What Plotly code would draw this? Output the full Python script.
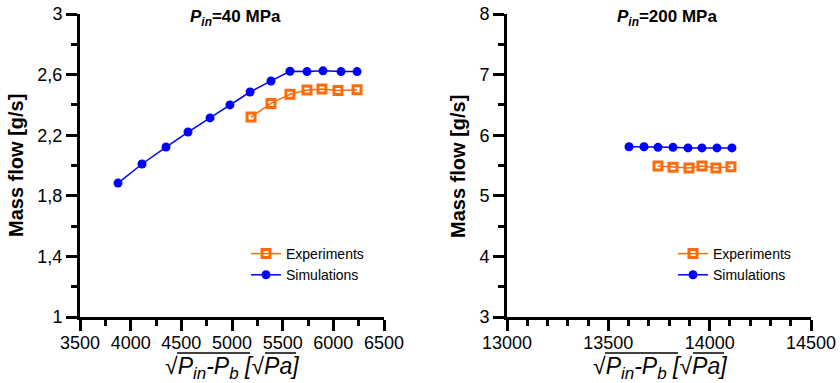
import plotly.graph_objects as go

# Left panel (P_in = 40 MPa)
sim40_x = [3875, 4112, 4349, 4566, 4783, 4980, 5178, 5385, 5572, 5740, 5898, 6076, 6234]
sim40_y = [1.884, 2.01, 2.122, 2.221, 2.314, 2.40, 2.485, 2.558, 2.622, 2.620, 2.625, 2.620, 2.620]
exp40_x = [5188, 5385, 5572, 5740, 5888, 6046, 6234]
exp40_y = [2.32, 2.41, 2.47, 2.498, 2.505, 2.495, 2.50]

# Right panel (P_in = 200 MPa)
sim200_x = [13602, 13676, 13745, 13819, 13893, 13962, 14036, 14110]
sim200_y = [5.81, 5.81, 5.80, 5.80, 5.79, 5.79, 5.79, 5.79]
exp200_x = [13745, 13819, 13898, 13962, 14031, 14105]
exp200_y = [5.49, 5.47, 5.46, 5.49, 5.46, 5.48]

BLUE = "#0000FF"
ORANGE = "#FF6A0A"
FONT = "Liberation Sans, Arial, sans-serif"

W, H = 840, 383
def px(x):
    return x / W
def py(y):
    return 1 - y / H

fig = go.Figure()

def add_pair(ex, ey, sx, sy, xa, ya, leg):
    fig.add_trace(go.Scatter(x=ex, y=ey, mode="lines+markers", name="Experiments",
                             xaxis=xa, yaxis=ya, legend=leg,
                             line=dict(color=ORANGE, width=1.5),
                             marker=dict(symbol="square-open", size=8, color=ORANGE,
                                         line=dict(color=ORANGE, width=3))))
    fig.add_trace(go.Scatter(x=sx, y=sy, mode="lines+markers", name="Simulations",
                             xaxis=xa, yaxis=ya, legend=leg,
                             line=dict(color=BLUE, width=1.5),
                             marker=dict(symbol="circle", size=9, color=BLUE)))

add_pair(exp40_x, exp40_y, sim40_x, sim40_y, "x", "y", "legend")
add_pair(exp200_x, exp200_y, sim200_x, sim200_y, "x2", "y2", "legend2")

ydom = [py(317), py(14)]
axis_common = dict(showline=True, linewidth=3, linecolor="black", ticks="outside",
                   ticklen=11, tickwidth=2.5, tickcolor="black", showgrid=False,
                   zeroline=False, automargin=False,
                   tickfont=dict(family=FONT, size=18, color="black"))

def minor(d):
    return dict(dtick=d, ticks="outside", ticklen=6, tickwidth=2.5, tickcolor="black")

fig.update_layout(
    width=W, height=H, margin=dict(l=0, r=0, t=0, b=0),
    paper_bgcolor="white", plot_bgcolor="white",
    separators=",.",
    font=dict(family=FONT, color="black"),
    xaxis=dict(domain=[px(80), px(384)], range=[3500, 6500], tick0=3500, dtick=500,
               anchor="y", tickformat="d", minor=minor(250), ticklabelstandoff=-4,
               **axis_common),
    yaxis=dict(domain=ydom, range=[1, 3], tick0=1, dtick=0.4, anchor="x",
               minor=minor(0.2), **axis_common),
    xaxis2=dict(domain=[px(507), px(811)], range=[13000, 14500], tick0=13000, dtick=500,
                anchor="y2", tickformat="d", minor=minor(100), ticklabelstandoff=-4,
                **axis_common),
    yaxis2=dict(domain=ydom, range=[3, 8], tick0=3, dtick=1, anchor="x2",
                minor=minor(0.5), **axis_common),
    legend=dict(x=px(246), y=py(238), xanchor="left", yanchor="top",
                bgcolor="rgba(0,0,0,0)", font=dict(family=FONT, size=14),
                itemwidth=30, tracegroupgap=0),
    legend2=dict(x=px(673), y=py(238), xanchor="left", yanchor="top",
                 bgcolor="rgba(0,0,0,0)", font=dict(family=FONT, size=14),
                 itemwidth=30, tracegroupgap=0),
)

title_font = dict(family=FONT, size=17, color="black")
SUB = '<sub><span style="font-size:17px">{}</span></sub>'
xtitle = ("√<i>P" + SUB.format("in") + "-P" + SUB.format("b") + "</i> <i>[</i>√<i>Pa</i><i>]</i>")
ytitle = "<b>Mass flow [g/s]</b>"
annos = [
    dict(x=px(235), y=py(18), text="<b><i>P<sub>in</sub></i>=40 MPa</b>", font=title_font),
    dict(x=px(667), y=py(18), text="<b><i>P<sub>in</sub></i>=200 MPa</b>", font=title_font),
    dict(x=px(16), y=py(166), text=ytitle, textangle=-90, font=dict(family=FONT, size=20, color="black")),
    dict(x=px(458), y=py(166), text=ytitle, textangle=-90, font=dict(family=FONT, size=20, color="black")),
    dict(x=px(232), y=py(368), text=xtitle, font=dict(family=FONT, size=23, color="black")),
    dict(x=px(660), y=py(368), text=xtitle, font=dict(family=FONT, size=23, color="black")),
]
for a in annos:
    fig.add_annotation(xref="paper", yref="paper", showarrow=False,
                       xanchor="center", yanchor="middle", **a)

# overlines of the square-root signs in the axis titles (decoration)
overlines = [(177, 250, 353), (265, 296, 353), (605, 678, 353), (693, 724, 353)]
for x0, x1, yy in overlines:
    fig.add_shape(type="line", xref="paper", yref="paper",
                  x0=px(x0), x1=px(x1), y0=py(yy), y1=py(yy),
                  line=dict(color="black", width=1.5))

fig.write_html("out.html")
